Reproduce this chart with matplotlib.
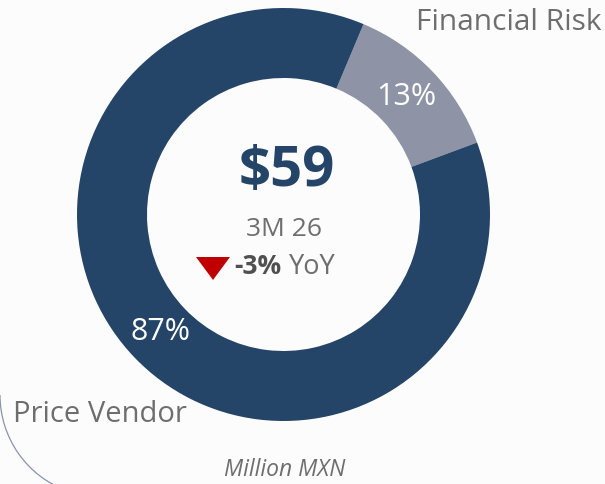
import matplotlib.pyplot as plt
from matplotlib.patches import Arc, Polygon

plt.rcParams['font.family'] = ['Open Sans', 'DejaVu Sans']

# revenue split, 3M 26
categories = ['Financial Risk', 'Price Vendor']
shares = [13, 87]
total = 59
period = '3M 26'
yoy = -3
unit = 'Million MXN'

colors = ['#8e93a6', '#244568']
grey = '#6e6e6e'

fig = plt.figure(figsize=(6.05, 4.84), dpi=100)
fig.patch.set_facecolor('#fcfcfc')
ax = fig.add_axes([0, 0, 1, 1])

cx, cy, R = 283.5, 269.5, 206.5
wedges, texts, autotexts = ax.pie(
    shares, colors=colors, startangle=67.2, counterclock=False,
    radius=R, center=(cx, cy), frame=True,
    wedgeprops=dict(width=70, edgecolor='none'),
    autopct='%.0f%%', pctdistance=0.825,
    textprops=dict(color='white', fontsize=22))
ax.set_xlim(0, 605)
ax.set_ylim(0, 484)
ax.set_aspect('equal')
ax.axis('off')

# segment names outside the ring
ax.text(602, 461, categories[0], ha='right', va='center', fontsize=21.5, color=grey)
ax.text(13, 70, categories[1], ha='left', va='center', fontsize=21, color=grey)

# centre KPI
ax.text(cx + 3, 313, f'${total}', ha='center', va='center', fontsize=40.5,
        fontweight='bold', color='#244568')
ax.text(cx, 255, period, ha='center', va='center', fontsize=19, color=grey)
ax.add_patch(Polygon([[196, 227], [230, 227], [213, 204]], closed=True,
                     color='#c00000', lw=0))
ax.text(234, 217, f'{yoy}%', ha='left', va='center', fontsize=19,
        fontweight='bold', color='#505050')
ax.text(289, 217, 'YoY', ha='left', va='center', fontsize=19.5, color=grey)

ax.text(cx + 1, 14, unit, ha='center', va='center', fontsize=16.5,
        style='italic', color=grey)

# thin decorative arc in the lower left corner
ax.add_patch(Arc((102, 89), 204, 204, theta1=180, theta2=250,
                 color='#8a92b0', lw=0.9))

fig.savefig('out.png', dpi=100, facecolor=fig.get_facecolor())
